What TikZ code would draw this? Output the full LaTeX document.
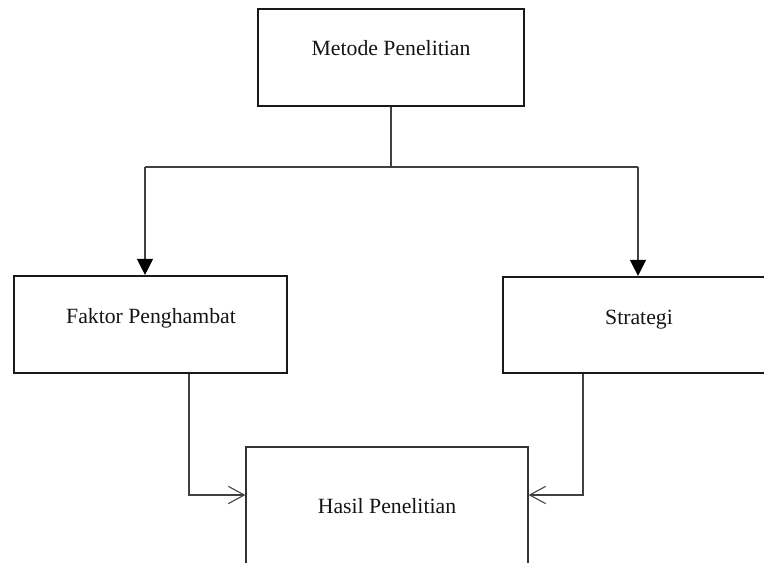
\documentclass[tikz,border=0pt]{standalone}
\usepackage{fontspec}
\setmainfont{Liberation Serif}
\usetikzlibrary{arrows.meta}
\begin{document}
\begin{tikzpicture}[x=0.75pt,y=-0.75pt,
  thickbox/.style={draw=black!90, line width=1.6pt, rectangle, inner sep=0pt},
  thinbox/.style={draw=black!80, line width=0.9pt, rectangle, inner sep=0pt},
  lbl/.style={font=\fontsize{16.3}{19}\selectfont, text=black!92, inner sep=0pt, anchor=base},
  conn/.style={draw=black!75, line width=0.8pt},
  fillarrow/.style={conn, -{Triangle[width=12pt,length=12pt,color=black]}},
  openarrow/.style={conn, -{Straight Barb[width=13pt,length=12pt]}}]
\useasboundingbox (0,0) rectangle (764,563);
\clip (0,0) rectangle (764,563);
\node[thickbox, minimum width=199.5pt, minimum height=72.75pt] (top) at (391,57.5) {};
\node[thickbox, minimum width=204.75pt, minimum height=72.75pt] (left) at (150.5,324.5) {};
\node[thickbox, minimum width=200.25pt, minimum height=72pt] (right) at (636.5,325) {};
\node[thinbox, minimum width=211.5pt, minimum height=129.75pt] (bottom) at (387,533.5) {};
\node[lbl] (t1) at (391,56) {Metode Penelitian};
\node[lbl] (t2) at (151,323) {Faktor Penghambat};
\node[lbl] (t3) at (639,324) {Strategi};
\node[lbl] (t4) at (387,513) {Hasil Penelitian};
\coordinate (hl) at (145,167);
\coordinate (hr) at (638,167);
\coordinate (lb) at (189,495);
\coordinate (rb) at (583,495);
\draw[conn] (top.south) -- (top.south |- hl);
\draw[conn] (hl) -- (hr);
\draw[fillarrow] (hl) -- (hl |- left.north);
\draw[fillarrow] (hr) -- (hr |- right.north);
\draw[openarrow] (left.south -| lb) -- (lb) -- (lb -| bottom.west);
\draw[openarrow] (right.south -| rb) -- (rb) -- (rb -| bottom.east);
\end{tikzpicture}
\end{document}
